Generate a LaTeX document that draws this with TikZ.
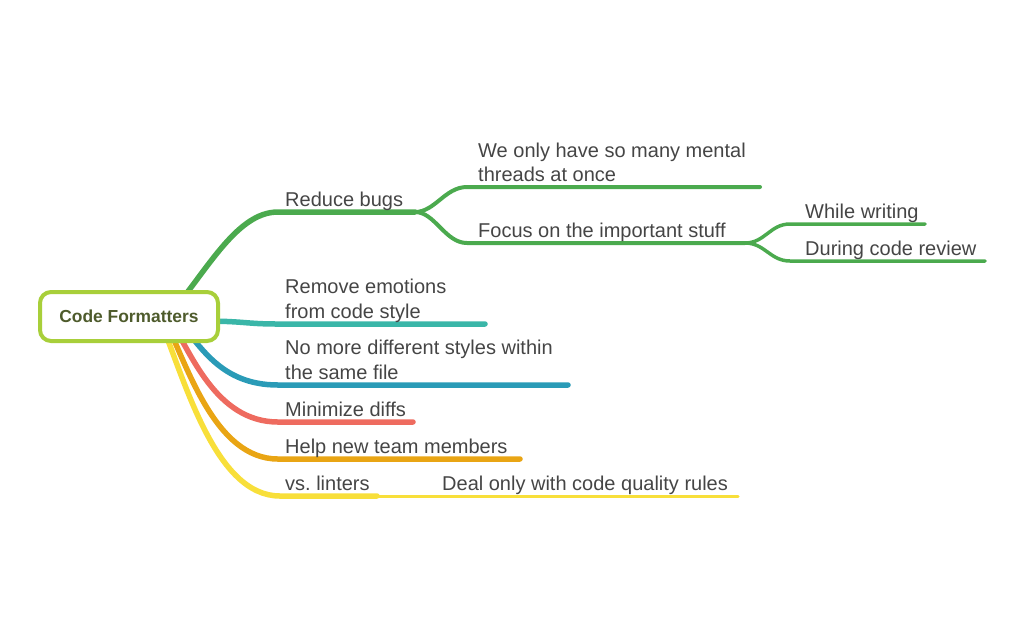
\documentclass[tikz,border=0pt]{standalone}
\usepackage{fontspec}
\setmainfont{Liberation Sans}
\definecolor{cGreen}{HTML}{4BAA4E}
\definecolor{cTeal}{HTML}{3AB6A8}
\definecolor{cBlue}{HTML}{2A9BB7}
\definecolor{cRed}{HTML}{EE6B5F}
\definecolor{cOrange}{HTML}{E9A514}
\definecolor{cYellow}{HTML}{F8DF3A}
\definecolor{cLime}{HTML}{A8CF3A}
\definecolor{cOlive}{HTML}{4E5B2C}
\definecolor{txtgray}{HTML}{454545}
\begin{document}
\frenchspacing
\begin{tikzpicture}[x=1pt,y=-1pt,
  lbl/.style={anchor=base west, inner sep=0pt, align=left, text=txtgray, font=\fontsize{20}{24.5}\selectfont},
  br/.style={line width=5.5pt, line cap=round},
  brtwo/.style={line width=4pt, line cap=round},
  brthree/.style={line width=3.5pt, line cap=round},
  rootbox/.style={draw=cLime, line width=4pt, fill=white, rounded corners=11pt,
    minimum width=178pt, minimum height=49pt, inner sep=0pt, text=cOlive,
    font=\bfseries\fontsize{17.4}{20}\selectfont}]
\useasboundingbox (0,0) rectangle (1024,633);

% branch coordinates
\coordinate (o1) at (165,320);
\coordinate (g1) at (278,212);
\coordinate (g1e) at (415,212);
\coordinate (g2a) at (467,187);
\coordinate (g2ae) at (760,187);
\coordinate (g2b) at (467,243);
\coordinate (g2be) at (745,243);
\coordinate (g3a) at (790,224);
\coordinate (g3ae) at (925,224);
\coordinate (g3b) at (790,261);
\coordinate (g3be) at (985,261);

\coordinate (o2) at (200,321);
\coordinate (te) at (278,324);
\coordinate (tee) at (485,324);

\coordinate (o3) at (178,320);
\coordinate (be) at (278,385);
\coordinate (bee) at (568,385);

\coordinate (o4) at (170,320);
\coordinate (re) at (278,422);
\coordinate (ree) at (413,422);

\coordinate (o5) at (165,320);
\coordinate (oe) at (278,459);
\coordinate (oee) at (520,459);

\coordinate (o6) at (160,320);
\coordinate (ye) at (280,496);
\coordinate (yee) at (377,496);
\coordinate (yfe) at (738,496);

% green branch
\draw[br,cGreen] (o1) .. controls (205,275) and (235,212) .. (g1) -- (g1e);
\draw[brtwo,cGreen] (g1e) .. controls (435,212) and (445,187) .. (g2a) -- (g2ae);
\draw[brtwo,cGreen] (g1e) .. controls (435,212) and (445,243) .. (g2b) -- (g2be);
\draw[brthree,cGreen] (g2be) .. controls (765,243) and (770,224) .. (g3a) -- (g3ae);
\draw[brthree,cGreen] (g2be) .. controls (765,243) and (770,261) .. (g3b) -- (g3be);

% teal
\draw[br,cTeal] (o2) .. controls (245,321) and (245,324) .. (te) -- (tee);
% blue
\draw[br,cBlue] (o3) .. controls (200,345) and (220,385) .. (be) -- (bee);
% red
\draw[br,cRed] (o4) .. controls (190,350) and (215,422) .. (re) -- (ree);
% orange
\draw[br,cOrange] (o5) .. controls (187,365) and (215,459) .. (oe) -- (oee);
% yellow
\draw[br,cYellow] (o6) .. controls (185,380) and (215,496) .. (ye) -- (yee);
\draw[line width=3pt,line cap=round,cYellow] (yee) -- (yfe);

% root
\node[rootbox] (root) at (129,316.5) {Code Formatters};

% labels
\node[lbl] (t1) at (285,206) {Reduce bugs};
\node[lbl] (t11) at (478,181.5) {We only have so many mental\\threads at once};
\node[lbl] (t12) at (478,237) {Focus on the important stuff};
\node[lbl] (t121) at (805,218) {While writing};
\node[lbl] (t122) at (805,255) {During code review};
\node[lbl] (t2) at (285,318) {Remove emotions\\from code style};
\node[lbl] (t3) at (285,379) {No more different styles within\\the same file};
\node[lbl] (t4) at (285,416) {Minimize diffs};
\node[lbl] (t5) at (285,453) {Help new team members};
\node[lbl] (t6) at (285,490) {vs. linters};
\node[lbl] (t61) at (442,490) {Deal only with code quality rules};
\end{tikzpicture}
\end{document}
